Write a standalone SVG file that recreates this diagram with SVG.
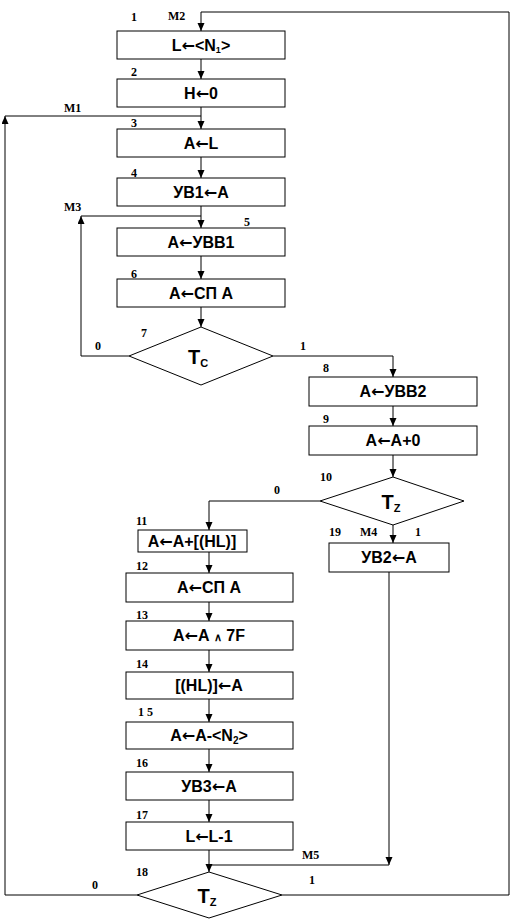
<svg xmlns="http://www.w3.org/2000/svg" width="516" height="921" viewBox="0 0 516 921">
<style>
.b{fill:#fff;stroke:#000;stroke-width:1}
.t{font-family:"Liberation Sans",Arial,sans-serif;font-weight:bold;font-size:16px;text-anchor:middle;fill:#000}
.a{font-family:"DejaVu Sans",sans-serif;font-weight:bold}
.d{font-family:"Liberation Sans",Arial,sans-serif;font-weight:bold;font-size:20px;text-anchor:middle;fill:#000}
.l{font-family:"Liberation Serif","Times New Roman",serif;font-weight:bold;font-size:12px;fill:#000}
.c{fill:none;stroke:#000;stroke-width:1}
</style>
<defs>
<marker id="ah" markerUnits="userSpaceOnUse" markerWidth="8" markerHeight="8" refX="8" refY="3.5" orient="auto">
<path d="M0,0 L8,3.5 L0,7 z" fill="#000"/>
</marker>
</defs>
<rect width="516" height="921" fill="#fff"/>
<g id="connectors">
<path class="c" d="M201,59 V79" marker-end="url(#ah)"/>
<path class="c" d="M201,107 V129" marker-end="url(#ah)"/>
<path class="c" d="M201,157 V178" marker-end="url(#ah)"/>
<path class="c" d="M201,206 V228" marker-end="url(#ah)"/>
<path class="c" d="M201,256 V279" marker-end="url(#ah)"/>
<path class="c" d="M201,307 V327" marker-end="url(#ah)"/>
<path class="c" d="M282,895 H509 V12 H201 V31" marker-end="url(#ah)"/>
<path class="c" d="M137,895 H5 V116" marker-end="url(#ah)"/>
<path class="c" d="M5,116 H201"/>
<path class="c" d="M129,356 H81 V216" marker-end="url(#ah)"/>
<path class="c" d="M81,216 H201"/>
<path class="c" d="M273,356 H393 V377" marker-end="url(#ah)"/>
<path class="c" d="M393,406 V426" marker-end="url(#ah)"/>
<path class="c" d="M393,455 V477" marker-end="url(#ah)"/>
<path class="c" d="M320,501 H209 V530" marker-end="url(#ah)"/>
<path class="c" d="M393,525 V543" marker-end="url(#ah)"/>
<path class="c" d="M209,552 V573" marker-end="url(#ah)"/>
<path class="c" d="M209,602 V621" marker-end="url(#ah)"/>
<path class="c" d="M209,650 V672" marker-end="url(#ah)"/>
<path class="c" d="M209,699 V722" marker-end="url(#ah)"/>
<path class="c" d="M209,749 V772" marker-end="url(#ah)"/>
<path class="c" d="M209,800 V822" marker-end="url(#ah)"/>
<path class="c" d="M209,850 V872" marker-end="url(#ah)"/>
<path class="c" d="M389,572 V865" marker-end="url(#ah)"/>
<path class="c" d="M389,865 H209"/>
</g>
<g id="n1"><rect class="b" x="117" y="31" width="168" height="28"/><text class="t" x="201" y="51">L<tspan class="a">←</tspan>&lt;N<tspan font-size="9" dy="2">1</tspan><tspan dy="-2">&gt;</tspan></text></g>
<g id="n2"><rect class="b" x="117" y="79" width="168" height="28"/><text class="t" x="201" y="99">H<tspan class="a">←</tspan>0</text></g>
<g id="n3"><rect class="b" x="117" y="129" width="168" height="28"/><text class="t" x="201" y="149">А<tspan class="a">←</tspan>L</text></g>
<g id="n4"><rect class="b" x="117" y="178" width="168" height="28"/><text class="t" x="201" y="198">УВ1<tspan class="a">←</tspan>А</text></g>
<g id="n5"><rect class="b" x="117" y="228" width="168" height="28"/><text class="t" x="201" y="248">А<tspan class="a">←</tspan>УВВ1</text></g>
<g id="n6"><rect class="b" x="117" y="279" width="168" height="28"/><text class="t" x="201" y="299">А<tspan class="a">←</tspan>СП А</text></g>
<g id="n7"><polygon class="b" points="201,327 273,356 201,385 129,356"/><text class="d" x="198" y="364">T<tspan font-size="11" dy="3">C</tspan></text></g>
<g id="n8"><rect class="b" x="309" y="377" width="168" height="29"/><text class="t" x="393" y="397">А<tspan class="a">←</tspan>УВВ2</text></g>
<g id="n9"><rect class="b" x="309" y="426" width="168" height="29"/><text class="t" x="393" y="446">А<tspan class="a">←</tspan>А+0</text></g>
<g id="n10"><polygon class="b" points="393,477 464,501 393,525 320,501"/><text class="d" x="391" y="509">T<tspan font-size="11" dy="3">Z</tspan></text></g>
<g id="n19"><rect class="b" x="329" y="543" width="120" height="29"/><text class="t" x="389" y="563">УВ2<tspan class="a">←</tspan>А</text></g>
<g id="n11"><rect class="b" x="138" y="530" width="109" height="22"/><text class="t" x="192" y="547">А<tspan class="a">←</tspan>А+[(HL)]</text></g>
<g id="n12"><rect class="b" x="126" y="573" width="167" height="29"/><text class="t" x="209" y="593">А<tspan class="a">←</tspan>СП А</text></g>
<g id="n13"><rect class="b" x="126" y="621" width="167" height="29"/><text class="t" x="209" y="641">А<tspan class="a">←</tspan>А <tspan font-size="11">∧</tspan> 7F</text></g>
<g id="n14"><rect class="b" x="126" y="672" width="167" height="27"/><text class="t" x="209" y="691">[(HL)]<tspan class="a">←</tspan>А</text></g>
<g id="n15"><rect class="b" x="126" y="722" width="167" height="27"/><text class="t" x="209" y="741">А<tspan class="a">←</tspan>А-&lt;N<tspan font-size="10" dy="3">2</tspan><tspan dy="-3">&gt;</tspan></text></g>
<g id="n16"><rect class="b" x="126" y="772" width="167" height="28"/><text class="t" x="209" y="792">УВ3<tspan class="a">←</tspan>А</text></g>
<g id="n17"><rect class="b" x="126" y="822" width="167" height="28"/><text class="t" x="209" y="842">L<tspan class="a">←</tspan>L-1</text></g>
<g id="n18"><polygon class="b" points="209,872 282,895 209,918 137,895"/><text class="d" x="207" y="903">T<tspan font-size="11" dy="3">Z</tspan></text></g>
<g id="labels">
<text class="l" x="131" y="21">1</text>
<text class="l" x="168" y="20">М2</text>
<text class="l" x="131" y="76">2</text>
<text class="l" x="64" y="112">М1</text>
<text class="l" x="131" y="127">3</text>
<text class="l" x="131" y="177">4</text>
<text class="l" x="64" y="211">М3</text>
<text class="l" x="244" y="226">5</text>
<text class="l" x="131" y="278">6</text>
<text class="l" x="141" y="337">7</text>
<text class="l" x="95" y="350">0</text>
<text class="l" x="300" y="350">1</text>
<text class="l" x="323" y="372">8</text>
<text class="l" x="323" y="423">9</text>
<text class="l" x="320" y="481">10</text>
<text class="l" x="274" y="494">0</text>
<text class="l" x="329" y="536">19</text>
<text class="l" x="360" y="536">М4</text>
<text class="l" x="415" y="536">1</text>
<text class="l" x="136" y="525">11</text>
<text class="l" x="136" y="570">12</text>
<text class="l" x="136" y="619">13</text>
<text class="l" x="136" y="668">14</text>
<text class="l" x="138" y="716">1 5</text>
<text class="l" x="136" y="767">16</text>
<text class="l" x="136" y="819">17</text>
<text class="l" x="136" y="876">18</text>
<text class="l" x="302" y="859">М5</text>
<text class="l" x="92" y="889">0</text>
<text class="l" x="309" y="884">1</text>
</g>
</svg>
